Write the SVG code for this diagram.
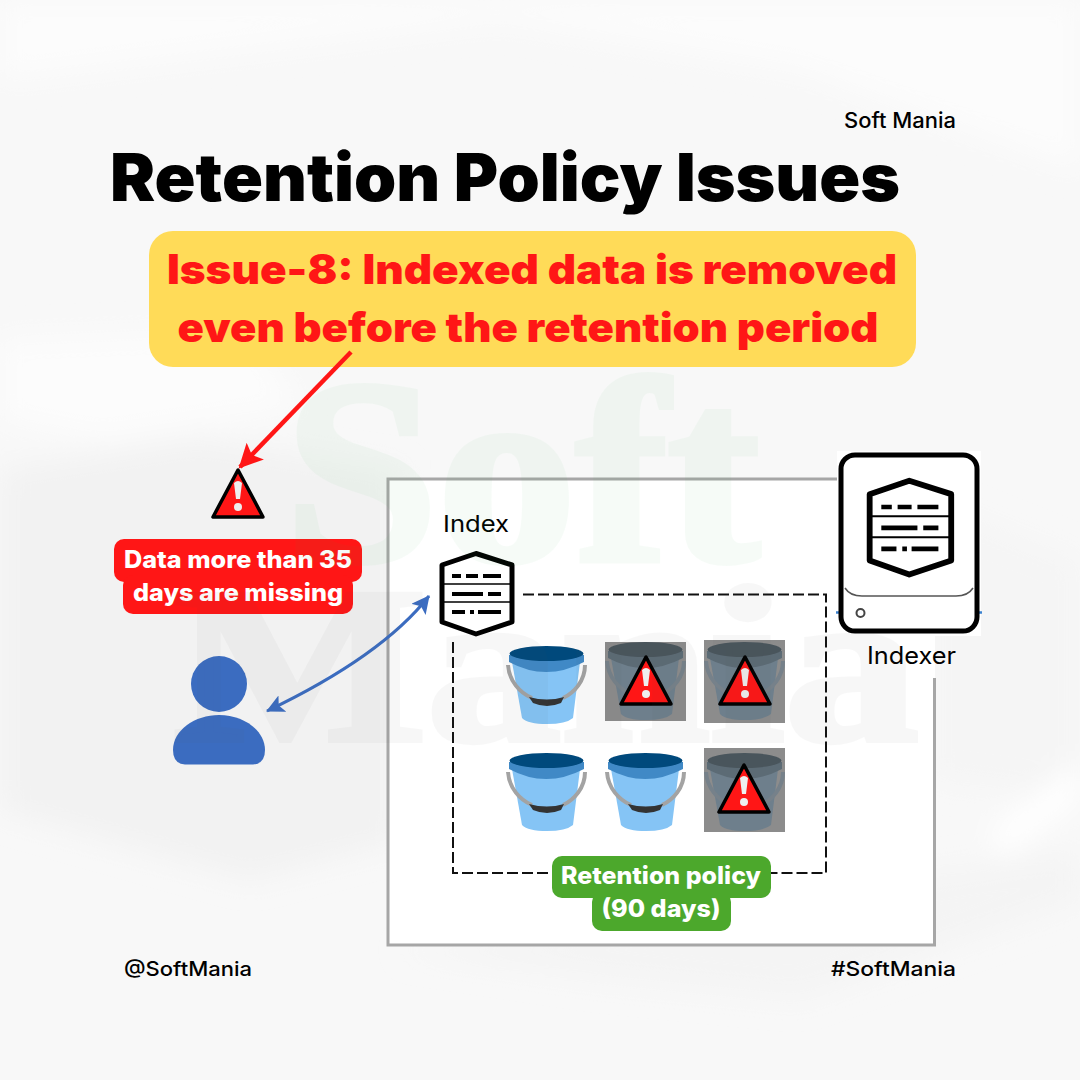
<svg xmlns="http://www.w3.org/2000/svg" width="1080" height="1080" viewBox="0 0 1080 1080">
<style>
text{font-family:"Inter","Noto Sans","Liberation Sans",sans-serif;text-anchor:middle}
.t{fill:#000;font-weight:500}
.l{fill:#000;font-weight:400}
.h{fill:#ff1616;font-weight:900;font-size:41px}
.w{fill:#fff;font-weight:800;font-size:24px}
.dash{fill:none;stroke:#111;stroke-width:2;stroke-dasharray:11 4}
.hex{fill:#fff;stroke:#000;stroke-width:5;stroke-linejoin:round}
.hl{stroke:#000;stroke-width:4;fill:none}
.hs{stroke:#000;stroke-width:1.6;fill:none}
.sq{fill:#8c8c8c}
.wm{font-family:"Liberation Serif",serif;font-weight:700}
</style>
<defs>
<filter id="b" x="-30%" y="-30%" width="160%" height="160%"><feGaussianBlur stdDeviation="14"/></filter>
<marker id="red" markerUnits="userSpaceOnUse" markerWidth="30" markerHeight="30" refX="22" refY="12" orient="auto"><path d="M0,0L24,12L0,24L5,12Z" fill="#ff1616"/></marker>
<marker id="blue" markerUnits="userSpaceOnUse" markerWidth="24" markerHeight="24" refX="17" refY="9" orient="auto-start-reverse"><path d="M0,0L18,9L0,18L4,9Z" fill="#3b6cc0"/></marker>
<g id="bucket">
<path d="M6,16L74,16L67,72Q60,78 41,78Q22,78 16,72Z" fill="#85c4f5"/>
<path d="M2,19C3,35 14,47 26,52M57,52C68,47 79,35 79,19" fill="none" stroke="#a3a3a3" stroke-width="4"/>
<path d="M23,51Q41,56 58,51L55,57Q41,63 27,57Z" fill="#333"/>
<path d="M3,9V16Q40,36 78,16V9Z" fill="#4089c6"/>
<ellipse cx="40.500" cy="7.500" rx="37" ry="7.500" fill="#00497c"/>
</g>
<g id="dim">
<path d="M6,16L74,16L67,72Q60,78 41,78Q22,78 16,72Z" fill="#6e7f8c"/>
<path d="M2,19C3,35 14,47 26,52M57,52C68,47 79,35 79,19" fill="none" stroke="#76818a" stroke-width="4"/>
<path d="M3,9V16Q40,36 78,16V9Z" fill="#5c6b75"/>
<ellipse cx="40.500" cy="7.500" rx="37" ry="7.500" fill="#49555c"/>
</g>
<g id="warn">
<path d="M27,2L2,49H52Z" fill="#ff1616" stroke="#000" stroke-width="3.500" stroke-linejoin="round"/>
<path d="M23,15Q27,11 31,15L29,31H25Z" fill="#eee"/>
<circle cx="27" cy="39" r="4" fill="#eee"/>
</g>
<g id="hexi">
<path class="hex" d="M4,13L38,1.500L74,13V70L38,82L4,70Z"/>
<path class="hs" d="M4,32H74M4,50H74"/>
<path class="hl" d="M14,24H23M28,24H40M45,24H63M14,42H45M50,42H63M14,60H27M32,60H36M40,60H63"/>
</g>
</defs>
<g id="background">
<rect width="1080" height="1080" fill="#f8f8f8"/>
<g filter="url(#b)">
<path d="M0,0H1080V170L800,70L500,20L0,80Z" fill="#fcfcfc"/>
<path d="M0,470L200,440L400,470V840L250,880L0,810Z" fill="#f2f2f2"/>
<path d="M0,340L250,330L300,410L100,440L0,420Z" fill="#fcfcfc"/>
<path d="M930,500L1080,560V800L930,780Z" fill="#f5f5f5"/>
<path d="M1000,860L1080,800V760L990,830Z" fill="#ffffff"/>
<path d="M400,950L1080,850V900L800,1000L600,980Z" fill="#f4f4f4"/>
</g>
</g>
<g id="box">
<rect x="388" y="479" width="547" height="466" fill="#fff"/>
<path d="M837,479H388V945H934.500V678" fill="none" stroke="#a6a6a6" stroke-width="3"/>
</g>
<text class="t" x="900" y="128" font-size="21" textLength="112" lengthAdjust="spacingAndGlyphs">Soft Mania</text>
<text x="505" y="201" font-size="66" font-weight="900" fill="#000" textLength="790" lengthAdjust="spacingAndGlyphs">Retention Policy Issues</text>
<g id="issue">
<rect x="149" y="231" width="767" height="136" rx="24" fill="#ffdb58"/>
<text class="h" x="532" y="284" textLength="730" lengthAdjust="spacingAndGlyphs">Issue-8: Indexed data is removed</text>
<text class="h" x="528" y="342" textLength="701" lengthAdjust="spacingAndGlyphs">even before the retention period</text>
</g>
<g id="alert">
<use href="#warn" x="211" y="468"/>
</g>
<g id="missing">
<rect x="114" y="539" width="248" height="43" rx="10" fill="#ff1616"/>
<rect x="123" y="575" width="230" height="39" rx="10" fill="#ff1616"/>
<text class="w" x="238" y="568" textLength="228" lengthAdjust="spacingAndGlyphs">Data more than 35</text>
<text class="w" x="238" y="601" textLength="210" lengthAdjust="spacingAndGlyphs">days are missing</text>
</g>
<g id="user">
<circle cx="219" cy="684" r="28" fill="#3b6cc0"/>
<path d="M185,764.500Q173,764 173,750C173,730 195,715 219,715C243,715 265,730 265,750Q265,764 253,764.500Z" fill="#3b6cc0"/>
</g>
<g id="connectors">
<path d="M351,352L240,467" fill="none" stroke="#ff1616" stroke-width="4.500" marker-end="url(#red)"/>
<path d="M429,596Q382,656 267,711" fill="none" stroke="#3b6cc0" stroke-width="3" marker-start="url(#blue)" marker-end="url(#blue)"/>
<path class="dash" d="M523,594.500H826V873H770"/>
<path class="dash" d="M453,642V873H553"/>
</g>
<g id="index">
<text class="l" x="476" y="532" font-size="23" textLength="66" lengthAdjust="spacingAndGlyphs">Index</text>
<use href="#hexi" x="438" y="552"/>
</g>
<g id="buckets">
<use href="#bucket" x="506" y="646"/>
<rect class="sq" x="605" y="642" width="81" height="79"/>
<use href="#dim" x="605" y="642"/>
<use href="#warn" x="619" y="655"/>
<rect class="sq" x="704" y="640" width="81" height="83"/>
<use href="#dim" x="704" y="642"/>
<use href="#warn" x="718" y="655"/>
<use href="#bucket" x="506" y="753"/>
<use href="#bucket" x="605" y="753"/>
<rect class="sq" x="704" y="748" width="81" height="84"/>
<use href="#dim" x="704" y="753"/>
<use href="#warn" x="717" y="763"/>
</g>
<g id="indexer">
<rect x="837" y="451" width="144" height="185" fill="#fff"/>
<path d="M836,612.500H842M976,612.500H982" stroke="#3b82d0" stroke-width="2.500"/>
<rect x="841" y="455" width="136" height="176" rx="14" fill="#fff" stroke="#000" stroke-width="5"/>
<path d="M845,588Q850,596 862,596H956Q968,596 973,588" fill="none" stroke="#555" stroke-width="1.500"/>
<circle cx="860.500" cy="613" r="4" fill="none" stroke="#444" stroke-width="2"/>
<use href="#hexi" transform="translate(865,479) scale(1.165)"/>
<text class="l" x="911.500" y="664" font-size="24" textLength="89" lengthAdjust="spacingAndGlyphs">Indexer</text>
</g>
<g id="policy">
<rect x="592" y="892" width="139" height="39" rx="10" fill="#4ca82c"/>
<rect x="552" y="856" width="219" height="42" rx="10" fill="#4ca82c"/>
<text class="w" x="661" y="884" textLength="200" lengthAdjust="spacingAndGlyphs">Retention policy</text>
<text class="w" x="661" y="917" textLength="119" lengthAdjust="spacingAndGlyphs">(90 days)</text>
</g>
<text class="t" x="188" y="976" font-size="20" textLength="128" lengthAdjust="spacingAndGlyphs">@SoftMania</text>
<text class="t" x="893.500" y="976" font-size="20" textLength="125" lengthAdjust="spacingAndGlyphs">#SoftMania</text>
<g id="watermark">
<text class="wm" x="522" y="560" font-size="262" textLength="475" lengthAdjust="spacingAndGlyphs" fill="#33b04f" stroke="#33b04f" stroke-width="7" opacity="0.04">Soft</text>
<text class="wm" x="546" y="740" font-size="222" textLength="745" lengthAdjust="spacingAndGlyphs" fill="#555" stroke="#555" stroke-width="6" opacity="0.04">Mania</text>
</g>
</svg>
